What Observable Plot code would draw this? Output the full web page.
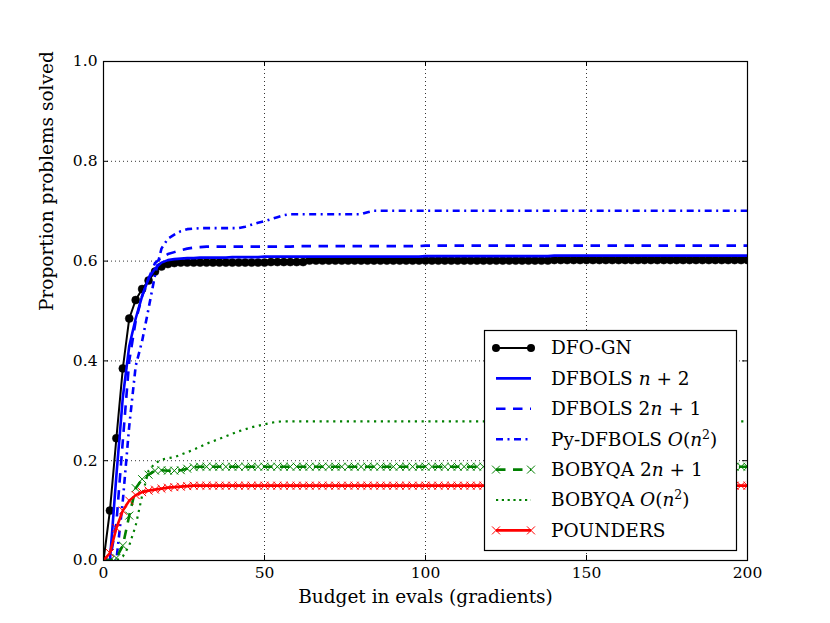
<!DOCTYPE html>
<html><head><meta charset="utf-8">
<script src="https://cdn.jsdelivr.net/npm/d3@7"></script>
<script src="https://cdn.jsdelivr.net/npm/@observablehq/plot@0.6"></script>
<style>body{margin:0;background:#fff}#chart svg{display:block}</style>
</head><body><div id="chart"></div>
<script>
// ---- data (budget in evals, proportion solved) ----
const budget = [
  0,2,4,6,8,10,12,14,16,18,
  20,22,24,26,28,30,32,34,36,38,
  40,42,44,46,48,50,52,54,56,58,
  60,62,64,66,68,70,72,74,76,78,
  80,82,84,86,88,90,92,94,96,98,
  100,102,104,106,108,110,112,114,116,118,
  120,122,124,126,128,130,132,134,136,138,
  140,142,144,146,148,150,152,154,156,158,
  160,162,164,166,168,170,172,174,176,178,
  180,182,184,186,188,190,192,194,196,198,
  200];

const dfoGN = [
  0,0.1,0.245,0.385,0.485,0.522,0.544,0.561,0.579,0.589,
  0.594,0.596,0.597,0.597,0.597,0.597,0.597,0.597,0.597,0.597,
  0.597,0.597,0.597,0.597,0.597,0.597,0.598,0.598,0.598,0.598,
  0.598,0.598,0.601,0.601,0.601,0.601,0.601,0.601,0.601,0.601,
  0.601,0.601,0.601,0.601,0.601,0.601,0.601,0.601,0.601,0.601,
  0.601,0.601,0.601,0.601,0.601,0.601,0.601,0.601,0.601,0.601,
  0.601,0.601,0.601,0.601,0.601,0.601,0.601,0.601,0.601,0.601,
  0.602,0.602,0.602,0.602,0.602,0.602,0.602,0.602,0.602,0.602,
  0.602,0.602,0.602,0.602,0.602,0.602,0.602,0.602,0.602,0.602,
  0.602,0.602,0.602,0.602,0.602,0.602,0.602,0.602,0.602,0.602,
  0.602];

const dfbolsN2 = [
  0,0,0.17,0.327,0.43,0.485,0.53,0.565,0.585,0.597,
  0.602,0.604,0.605,0.606,0.606,0.607,0.607,0.607,0.607,0.607,
  0.608,0.608,0.608,0.608,0.608,0.609,0.609,0.609,0.609,0.609,
  0.609,0.609,0.609,0.609,0.609,0.609,0.609,0.609,0.609,0.609,
  0.609,0.609,0.609,0.609,0.609,0.609,0.609,0.609,0.609,0.609,
  0.61,0.61,0.61,0.61,0.61,0.61,0.61,0.61,0.61,0.61,
  0.61,0.61,0.61,0.61,0.61,0.61,0.61,0.61,0.61,0.61,
  0.611,0.611,0.611,0.611,0.611,0.611,0.611,0.611,0.611,0.611,
  0.611,0.611,0.611,0.611,0.611,0.611,0.611,0.611,0.611,0.611,
  0.611,0.611,0.611,0.611,0.611,0.611,0.611,0.611,0.611,0.611,
  0.611];

const dfbols2N1 = [
  0,0,0.075,0.24,0.4,0.48,0.53,0.565,0.596,0.607,
  0.614,0.618,0.622,0.625,0.627,0.628,0.629,0.629,0.629,0.629,
  0.629,0.629,0.629,0.629,0.629,0.629,0.629,0.629,0.629,0.629,
  0.63,0.63,0.63,0.63,0.63,0.63,0.63,0.63,0.63,0.63,
  0.63,0.63,0.63,0.63,0.63,0.63,0.63,0.63,0.63,0.63,
  0.631,0.631,0.631,0.631,0.631,0.631,0.631,0.631,0.631,0.631,
  0.631,0.631,0.631,0.631,0.631,0.631,0.631,0.631,0.631,0.631,
  0.631,0.631,0.631,0.631,0.631,0.631,0.631,0.631,0.631,0.631,
  0.631,0.631,0.631,0.631,0.631,0.631,0.631,0.631,0.631,0.631,
  0.631,0.631,0.631,0.631,0.631,0.631,0.631,0.631,0.631,0.631,
  0.631];

const pyDfbolsN2 = [
  0,0,0,0.12,0.27,0.39,0.44,0.505,0.572,0.625,
  0.645,0.653,0.66,0.664,0.665,0.666,0.666,0.666,0.666,0.666,
  0.666,0.666,0.669,0.673,0.677,0.68,0.684,0.688,0.692,0.694,
  0.694,0.694,0.694,0.694,0.694,0.694,0.694,0.694,0.694,0.694,
  0.694,0.698,0.701,0.701,0.701,0.701,0.701,0.701,0.701,0.701,
  0.701,0.701,0.701,0.701,0.701,0.701,0.701,0.701,0.701,0.701,
  0.701,0.701,0.701,0.701,0.701,0.701,0.701,0.701,0.701,0.701,
  0.701,0.701,0.701,0.701,0.701,0.701,0.701,0.701,0.701,0.701,
  0.701,0.701,0.701,0.701,0.701,0.701,0.701,0.701,0.701,0.701,
  0.701,0.701,0.701,0.701,0.701,0.701,0.701,0.701,0.701,0.701,
  0.701];

const bobyqa2N1 = [
  0,0,0.005,0.03,0.09,0.145,0.163,0.172,0.18,0.181,
  0.18,0.18,0.181,0.184,0.187,0.188,0.188,0.188,0.188,0.188,
  0.188,0.188,0.188,0.188,0.188,0.188,0.188,0.188,0.188,0.188,
  0.188,0.188,0.188,0.188,0.188,0.188,0.188,0.188,0.188,0.188,
  0.188,0.188,0.188,0.188,0.188,0.188,0.188,0.188,0.188,0.188,
  0.188,0.188,0.188,0.188,0.188,0.188,0.188,0.188,0.188,0.188,
  0.188,0.188,0.188,0.188,0.188,0.188,0.188,0.188,0.188,0.188,
  0.188,0.188,0.188,0.188,0.188,0.188,0.188,0.188,0.188,0.188,
  0.188,0.188,0.188,0.188,0.188,0.188,0.188,0.188,0.188,0.188,
  0.188,0.188,0.188,0.188,0.188,0.188,0.188,0.188,0.188,0.188,
  0.188];

const bobyqaN2 = [
  0,0,0,0.008,0.03,0.07,0.13,0.18,0.195,0.202,
  0.205,0.207,0.212,0.217,0.222,0.228,0.234,0.239,0.244,0.249,
  0.254,0.259,0.263,0.267,0.27,0.273,0.276,0.278,0.279,0.279,
  0.279,0.279,0.279,0.279,0.279,0.279,0.279,0.279,0.279,0.279,
  0.279,0.279,0.279,0.279,0.279,0.279,0.279,0.279,0.279,0.279,
  0.279,0.279,0.279,0.279,0.279,0.279,0.279,0.279,0.279,0.279,
  0.279,0.279,0.279,0.279,0.279,0.279,0.279,0.279,0.279,0.279,
  0.279,0.279,0.279,0.279,0.279,0.279,0.279,0.279,0.279,0.279,
  0.279,0.279,0.279,0.279,0.279,0.279,0.279,0.279,0.279,0.279,
  0.279,0.279,0.279,0.279,0.279,0.279,0.279,0.279,0.279,0.279,
  0.279];

const pounders = [
  0,0.015,0.065,0.1,0.12,0.131,0.137,0.14,0.142,0.144,
  0.146,0.147,0.148,0.149,0.15,0.15,0.15,0.15,0.15,0.15,
  0.15,0.15,0.15,0.15,0.15,0.15,0.15,0.15,0.15,0.15,
  0.15,0.15,0.15,0.15,0.15,0.15,0.15,0.15,0.15,0.15,
  0.15,0.15,0.15,0.15,0.15,0.15,0.15,0.15,0.15,0.15,
  0.15,0.15,0.15,0.15,0.15,0.15,0.15,0.15,0.15,0.15,
  0.15,0.15,0.15,0.15,0.15,0.15,0.15,0.15,0.15,0.15,
  0.15,0.15,0.15,0.15,0.15,0.15,0.15,0.15,0.15,0.15,
  0.15,0.15,0.15,0.15,0.15,0.15,0.15,0.15,0.15,0.15,
  0.15,0.15,0.15,0.15,0.15,0.15,0.15,0.15,0.15,0.15,
  0.15];

const xTicks = [0, 50, 100, 150, 200];
const yTicks = [0, 0.2, 0.4, 0.6, 0.8, 1.0];
const xLabel = "Budget in evals (gradients)";
const yLabel = "Proportion problems solved";

// legend labels: [text, style] pieces ("" roman, "i" italic, "sup" superscript)
const labelDfoGN = [["DFO-GN", ""]];
const labelDfbolsN2 = [["DFBOLS ", ""], ["n", "i"], [" + 2", ""]];
const labelDfbols2N1 = [["DFBOLS 2", ""], ["n", "i"], [" + 1", ""]];
const labelPy = [["Py-DFBOLS ", ""], ["O", "i"], ["(", ""], ["n", "i"], ["2", "sup"], [")", ""]];
const labelBob2N1 = [["BOBYQA 2", ""], ["n", "i"], [" + 1", ""]];
const labelBobN2 = [["BOBYQA ", ""], ["O", "i"], ["(", ""], ["n", "i"], ["2", "sup"], [")", ""]];
const labelPounders = [["POUNDERS", ""]];

// ---- styling ----
const series = [
  {key: "dfogn", label: labelDfoGN, values: dfoGN, stroke: "#000000", width: 2, dash: null, marker: "circle"},
  {key: "dfbolsN2", label: labelDfbolsN2, values: dfbolsN2, stroke: "#0000ff", width: 2.6, dash: null, marker: null},
  {key: "dfbols2N1", label: labelDfbols2N1, values: dfbols2N1, stroke: "#0000ff", width: 2.6, dash: "9.5,7.5", marker: null},
  {key: "py", label: labelPy, values: pyDfbolsN2, stroke: "#0000ff", width: 2.6, dash: "7,4.5,2,4.5", marker: null},
  {key: "bob2N1", label: labelBob2N1, values: bobyqa2N1, stroke: "#008000", width: 2.6, dash: "9.5,7.5", marker: "times"},
  {key: "bobN2", label: labelBobN2, values: bobyqaN2, stroke: "#008000", width: 2.2, dash: "2.2,4.6", marker: null},
  {key: "pounders", label: labelPounders, values: pounders, stroke: "#ff0000", width: 2.6, dash: null, marker: "times"}
];

const FONT = "'DejaVu Serif', 'Liberation Serif', serif";
const W = 830, H = 623;
const mL = 103, mR = 83, mT = 61, mB = 63;
const plotW = W - mL - mR, plotH = H - mT - mB;

const marks = [];
// grid
marks.push(Plot.ruleX(xTicks.slice(1, -1), {x: d => d, stroke: "#000", strokeWidth: 0.8, strokeDasharray: "1,3"}));
marks.push(Plot.ruleY(yTicks.slice(1, -1), {y: d => d, stroke: "#000", strokeWidth: 0.8, strokeDasharray: "1,3"}));

for (const s of series) {
  const rows = budget.map((b, i) => ({budget: b, value: s.values[i]}));
  marks.push(Plot.line(rows, {x: "budget", y: "value", stroke: s.stroke, strokeWidth: s.width,
    strokeDasharray: s.dash, strokeLinecap: "butt", clip: true}));
  if (s.marker === "circle") {
    marks.push(Plot.dot(rows, {x: "budget", y: "value", r: 4, fill: s.stroke, stroke: s.stroke, strokeWidth: 0.5, clip: true}));
  } else if (s.marker === "times") {
    marks.push(Plot.dot(rows, {x: "budget", y: "value", r: 3.7, symbol: "times", stroke: s.stroke, strokeWidth: 1, clip: true}));
  }
}

// frame + inward ticks
marks.push(Plot.frame({stroke: "#000", strokeWidth: 1.2}));
marks.push(Plot.tickX(xTicks, {x: d => d, insetTop: plotH - 5, stroke: "#000"}));
marks.push(Plot.tickX(xTicks, {x: d => d, insetBottom: plotH - 5, stroke: "#000"}));
marks.push(Plot.tickY(yTicks, {y: d => d, insetRight: plotW - 5, stroke: "#000"}));
marks.push(Plot.tickY(yTicks, {y: d => d, insetLeft: plotW - 5, stroke: "#000"}));

// tick labels
marks.push(Plot.text(xTicks, {x: d => d, frameAnchor: "bottom", dy: 17, text: d => String(d), fontSize: 15.5, fill: "#000"}));
marks.push(Plot.text(yTicks, {y: d => d, frameAnchor: "left", dx: -6, textAnchor: "end", text: d => d.toFixed(1), fontSize: 15.5, fill: "#000"}));

// axis labels
marks.push(Plot.text([xLabel], {frameAnchor: "bottom", dy: 42, text: d => d, fontSize: 18.5, fill: "#000"}));
marks.push(Plot.text([yLabel], {frameAnchor: "left", dx: -56, rotate: -90, text: d => d, fontSize: 18.5, fill: "#000"}));

const chart = Plot.plot({
  width: W, height: H,
  marginLeft: mL, marginRight: mR, marginTop: mT, marginBottom: mB,
  x: {domain: [0, 200], axis: null},
  y: {domain: [0, 1], axis: null},
  style: {fontFamily: FONT, background: "#fff", overflow: "visible"},
  marks
});
document.getElementById("chart").appendChild(chart);

// ---- legend (inside axes, lower right) ----
const svg = d3.select(chart);
const lg = svg.append("g").attr("font-family", FONT).attr("font-size", 18.5).attr("text-anchor", "start");
const box = {x: 484.5, y: 330.5, w: 252, h: 220};
lg.append("rect").attr("x", box.x).attr("y", box.y).attr("width", box.w).attr("height", box.h)
  .attr("fill", "#fff").attr("stroke", "#000").attr("stroke-width", 1.2);
const x0 = 496, x1 = 531, tx = 551, y0 = 348, dyRow = 30.4;
series.forEach((s, i) => {
  const y = y0 + i * dyRow;
  lg.append("line").attr("x1", x0).attr("x2", x1).attr("y1", y).attr("y2", y)
    .attr("stroke", s.stroke).attr("stroke-width", s.width)
    .attr("stroke-dasharray", s.dash ? (s.key === "bobN2" ? "2.2,3.6" : s.dash) : null);
  if (s.marker === "circle") {
    [x0, x1].forEach(cx => lg.append("circle").attr("cx", cx).attr("cy", y).attr("r", 4).attr("fill", s.stroke));
  } else if (s.marker === "times") {
    const sym = d3.symbol(d3.symbolTimes, Math.PI * 3.7 * 3.7)();
    [x0, x1].forEach(cx => lg.append("path").attr("d", sym).attr("transform", `translate(${cx},${y})`)
      .attr("fill", "none").attr("stroke", s.stroke).attr("stroke-width", 1));
  }
  const t = lg.append("text").attr("x", tx).attr("y", y).attr("dy", "0.35em")
    .attr("fill", "#000").attr("text-anchor", "start");
  for (const [str, st] of s.label) {
    const sp = t.append("tspan").text(str);
    if (st === "i") sp.attr("font-style", "italic");
    if (st === "sup") sp.attr("font-size", 12.5).attr("baseline-shift", "super");
  }
});
</script>
</body></html>
